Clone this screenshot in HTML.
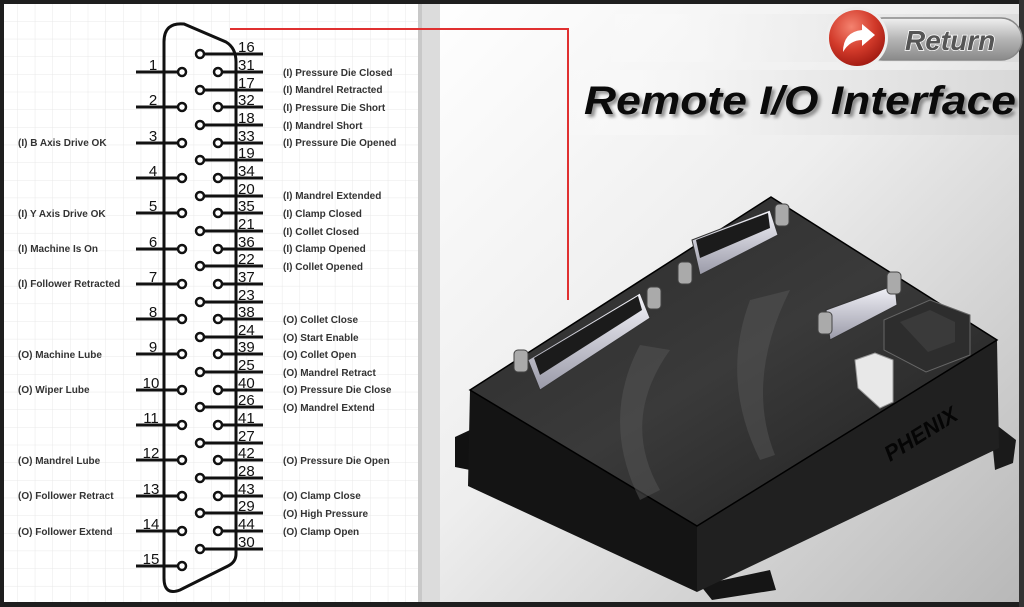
<!DOCTYPE html>
<html><head><meta charset="utf-8"><style>
html,body{margin:0;padding:0;width:1024px;height:607px;overflow:hidden;background:#1e1e1e}
svg{display:block}
.lb{font-family:"Liberation Sans",sans-serif;font-weight:bold;font-size:10px;fill:#333}
.nm{font-family:"Liberation Sans",sans-serif;font-size:15px;fill:#111}
</style></head><body>
<svg width="1024" height="607" viewBox="0 0 1024 607" xmlns="http://www.w3.org/2000/svg">
<defs>
<pattern id="grid" width="17.65" height="17.65" patternUnits="userSpaceOnUse" x="0" y="4">
<path d="M17.65 0V17.65H0" fill="none" stroke="#e8e8e8" stroke-width="1"/>
</pattern>
<linearGradient id="bg" x1="0" y1="0" x2="1" y2="1">
<stop offset="0" stop-color="#ffffff"/><stop offset="0.45" stop-color="#eeeeee"/><stop offset="1" stop-color="#b8b8b8"/>
</linearGradient>
<linearGradient id="band" x1="0" y1="0" x2="1" y2="0">
<stop offset="0" stop-color="#fff" stop-opacity="0"/><stop offset="0.3" stop-color="#f4f4f4"/><stop offset="1" stop-color="#d8d8d8"/>
</linearGradient>
<radialGradient id="red" cx="0.4" cy="0.3" r="0.7">
<stop offset="0" stop-color="#f4826f"/><stop offset="0.6" stop-color="#d23a2a"/><stop offset="1" stop-color="#a51d14"/>
</radialGradient>
<linearGradient id="pill" x1="0" y1="0" x2="0" y2="1">
<stop offset="0" stop-color="#f0f0f0"/><stop offset="0.5" stop-color="#b5b5b5"/><stop offset="1" stop-color="#8a8a8a"/>
</linearGradient>
<linearGradient id="top" x1="0" y1="0" x2="1" y2="1">
<stop offset="0" stop-color="#2a2a2a"/><stop offset="0.5" stop-color="#3a3a3a"/><stop offset="1" stop-color="#1e1e1e"/>
</linearGradient>
<linearGradient id="conn" x1="0" y1="0" x2="0" y2="1">
<stop offset="0" stop-color="#f4f4fa"/><stop offset="1" stop-color="#9a9aa8"/>
</linearGradient>
<filter id="blur"><feGaussianBlur stdDeviation="1.5"/></filter>
</defs>
<rect x="420" y="4" width="600" height="598" fill="url(#bg)"/>
<rect x="560" y="70" width="460" height="65" fill="url(#band)"/>
<rect x="600" y="14" width="420" height="48" fill="url(#band)" opacity="0.7"/>
<rect x="4" y="4" width="416" height="598" fill="#fff"/>
<rect x="4" y="4" width="416" height="598" fill="url(#grid)"/>
<rect x="418" y="4" width="22" height="598" fill="#dcdcdc"/>
<rect x="418" y="4" width="4" height="598" fill="#c8c8c8"/>
<rect x="0" y="0" width="1024" height="4" fill="#1e1e1e"/>
<rect x="0" y="602" width="1024" height="5" fill="#1e1e1e"/>
<rect x="1019" y="0" width="5" height="607" fill="#333"/>
<path d="M230 29H568V300" fill="none" stroke="#e03030" stroke-width="2"/>
<path d="M164 574V42Q164 22 184 24L226 42Q236 48 236 62V554Q236 562 228 566L180 590Q164 596 164 578Z" fill="none" stroke="#111" stroke-width="3"/>
<g stroke="#111" stroke-width="3" fill="none">
<path d="M136 72H178M136 107H178M136 143H178M136 178H178M136 213H178M136 249H178M136 284H178M136 319H178M136 354H178M136 390H178M136 425H178M136 460H178M136 496H178M136 531H178M136 566H178"/>
<path d="M204 54H263M204 90H263M204 125H263M204 160H263M204 196H263M204 231H263M204 266H263M204 302H263M204 337H263M204 372H263M204 407H263M204 443H263M204 478H263M204 513H263M204 549H263"/>
<path d="M222 72H263M222 107H263M222 143H263M222 178H263M222 213H263M222 249H263M222 284H263M222 319H263M222 354H263M222 390H263M222 425H263M222 460H263M222 496H263M222 531H263"/>
</g>
<g fill="#fff" stroke="#111" stroke-width="2.5">
<circle cx="182" cy="72" r="4"/><circle cx="182" cy="107" r="4"/><circle cx="182" cy="143" r="4"/><circle cx="182" cy="178" r="4"/><circle cx="182" cy="213" r="4"/><circle cx="182" cy="249" r="4"/><circle cx="182" cy="284" r="4"/><circle cx="182" cy="319" r="4"/><circle cx="182" cy="354" r="4"/><circle cx="182" cy="390" r="4"/><circle cx="182" cy="425" r="4"/><circle cx="182" cy="460" r="4"/><circle cx="182" cy="496" r="4"/><circle cx="182" cy="531" r="4"/><circle cx="182" cy="566" r="4"/>
<circle cx="200" cy="54" r="4"/><circle cx="200" cy="90" r="4"/><circle cx="200" cy="125" r="4"/><circle cx="200" cy="160" r="4"/><circle cx="200" cy="196" r="4"/><circle cx="200" cy="231" r="4"/><circle cx="200" cy="266" r="4"/><circle cx="200" cy="302" r="4"/><circle cx="200" cy="337" r="4"/><circle cx="200" cy="372" r="4"/><circle cx="200" cy="407" r="4"/><circle cx="200" cy="443" r="4"/><circle cx="200" cy="478" r="4"/><circle cx="200" cy="513" r="4"/><circle cx="200" cy="549" r="4"/>
<circle cx="218" cy="72" r="4"/><circle cx="218" cy="107" r="4"/><circle cx="218" cy="143" r="4"/><circle cx="218" cy="178" r="4"/><circle cx="218" cy="213" r="4"/><circle cx="218" cy="249" r="4"/><circle cx="218" cy="284" r="4"/><circle cx="218" cy="319" r="4"/><circle cx="218" cy="354" r="4"/><circle cx="218" cy="390" r="4"/><circle cx="218" cy="425" r="4"/><circle cx="218" cy="460" r="4"/><circle cx="218" cy="496" r="4"/><circle cx="218" cy="531" r="4"/>
</g>
<g class="nm" text-anchor="middle">
<text x="153" y="70">1</text><text x="153" y="105">2</text><text x="153" y="141">3</text><text x="153" y="176">4</text><text x="153" y="211">5</text><text x="153" y="247">6</text><text x="153" y="282">7</text><text x="153" y="317">8</text><text x="153" y="352">9</text><text x="151" y="388">10</text><text x="151" y="423">11</text><text x="151" y="458">12</text><text x="151" y="494">13</text><text x="151" y="529">14</text><text x="151" y="564">15</text>
</g>
<g class="nm">
<text x="238" y="52">16</text><text x="238" y="70">31</text><text x="238" y="88">17</text><text x="238" y="105">32</text><text x="238" y="123">18</text><text x="238" y="141">33</text><text x="238" y="158">19</text><text x="238" y="176">34</text><text x="238" y="194">20</text><text x="238" y="211">35</text><text x="238" y="229">21</text><text x="238" y="247">36</text><text x="238" y="264">22</text><text x="238" y="282">37</text><text x="238" y="300">23</text><text x="238" y="317">38</text><text x="238" y="335">24</text><text x="238" y="352">39</text><text x="238" y="370">25</text><text x="238" y="388">40</text><text x="238" y="405">26</text><text x="238" y="423">41</text><text x="238" y="441">27</text><text x="238" y="458">42</text><text x="238" y="476">28</text><text x="238" y="494">43</text><text x="238" y="511">29</text><text x="238" y="529">44</text><text x="238" y="547">30</text>
</g>
<g class="lb">
<text x="283" y="76">(I) Pressure Die Closed</text>
<text x="283" y="93">(I) Mandrel Retracted</text>
<text x="283" y="111">(I) Pressure Die Short</text>
<text x="283" y="129">(I) Mandrel Short</text>
<text x="283" y="146">(I) Pressure Die Opened</text>
<text x="283" y="199">(I) Mandrel Extended</text>
<text x="283" y="217">(I) Clamp Closed</text>
<text x="283" y="235">(I) Collet Closed</text>
<text x="283" y="252">(I) Clamp Opened</text>
<text x="283" y="270">(I) Collet Opened</text>
<text x="283" y="323">(O) Collet Close</text>
<text x="283" y="341">(O) Start Enable</text>
<text x="283" y="358">(O) Collet Open</text>
<text x="283" y="376">(O) Mandrel Retract</text>
<text x="283" y="393">(O) Pressure Die Close</text>
<text x="283" y="411">(O) Mandrel Extend</text>
<text x="283" y="464">(O) Pressure Die Open</text>
<text x="283" y="499">(O) Clamp Close</text>
<text x="283" y="517">(O) High Pressure</text>
<text x="283" y="535">(O) Clamp Open</text>
<text x="18" y="146">(I) B Axis Drive OK</text>
<text x="18" y="217">(I) Y Axis Drive OK</text>
<text x="18" y="252">(I) Machine Is On</text>
<text x="18" y="287">(I) Follower Retracted</text>
<text x="18" y="358">(O) Machine Lube</text>
<text x="18" y="393">(O) Wiper Lube</text>
<text x="18" y="464">(O) Mandrel Lube</text>
<text x="18" y="499">(O) Follower Retract</text>
<text x="18" y="535">(O) Follower Extend</text>
</g>
<rect x="862" y="18" width="160" height="42" rx="21" fill="url(#pill)" stroke="#888" stroke-width="1.5"/>
<text x="905" y="50" font-family="Liberation Sans,sans-serif" font-weight="bold" font-style="italic" font-size="28" fill="#555" stroke="#fff" stroke-width="1.5" paint-order="stroke">Return</text>
<circle cx="857" cy="38" r="31" fill="#eee"/>
<circle cx="857" cy="38" r="28" fill="url(#red)"/>
<path d="M843 52Q843 32 862 30V24L875 35L862 46V40Q850 40 843 52Z" fill="#fff"/>
<text x="587" y="117" textLength="432" lengthAdjust="spacingAndGlyphs" font-family="Liberation Sans,sans-serif" font-weight="bold" font-style="italic" font-size="40" fill="#666" opacity="0.7" filter="url(#blur)">Remote I/O Interface</text>
<text x="584" y="114" textLength="432" lengthAdjust="spacingAndGlyphs" font-family="Liberation Sans,sans-serif" font-weight="bold" font-style="italic" font-size="40" fill="#0a0a0a">Remote I/O Interface</text>
<g>
<path d="M455 437L470 430L470 470L455 467Z" fill="#111"/>
<path d="M990 420L1016 440L1013 463L995 470Z" fill="#1a1a1a"/>
<path d="M700 585L770 570L776 590L712 600Z" fill="#151515"/>
<path d="M470 390L697 526L697 592L468 486Z" fill="#141414"/>
<path d="M697 526L997 340L999 448L697 592Z" fill="#202020"/>
<path d="M470 390L771 197L997 340L697 526Z" fill="url(#top)" stroke="#000" stroke-width="1.5"/>
<path d="M640 345Q600 420 640 500L660 490Q620 420 670 350Z" fill="#555" opacity="0.5"/>
<path d="M750 300Q720 380 760 460L775 455Q745 380 790 290Z" fill="#555" opacity="0.5"/>
<text x="890" y="462" font-family="Liberation Sans,sans-serif" font-weight="bold" font-style="italic" font-size="22" fill="#050505" transform="rotate(-32 890 462)">PHENIX</text>
<path d="M528 360L640 293L650 318L540 390Z" fill="url(#conn)" stroke="#333"/>
<path d="M534 358L638 296L642 310L540 375Z" fill="#1b1b1b"/>
<path d="M692 240L770 210L778 235L700 275Z" fill="url(#conn)" stroke="#333"/>
<path d="M696 240L768 213L770 228L700 258Z" fill="#1b1b1b"/>
<path d="M826 310L895 285L897 305L830 340Z" fill="url(#conn)" stroke="#333"/>
<path d="M884 320L930 300L970 315L970 355L926 372L884 350Z" fill="#2d2d2d" stroke="#666"/>
<path d="M900 322L930 310L955 322L955 342L928 352Z" fill="#3a3a3a"/>
<path d="M855 360L875 353L893 360L893 402L880 408L858 388Z" fill="#e8e8e8" stroke="#999"/>
<g fill="#aaa" stroke="#444">
<rect x="514" y="350" width="14" height="22" rx="4"/><rect x="647" y="287" width="14" height="22" rx="4"/>
<rect x="678" y="262" width="14" height="22" rx="4"/><rect x="775" y="204" width="14" height="22" rx="4"/>
<rect x="818" y="312" width="14" height="22" rx="4"/><rect x="887" y="272" width="14" height="22" rx="4"/>
</g>
</g>
</svg>
</body></html>
